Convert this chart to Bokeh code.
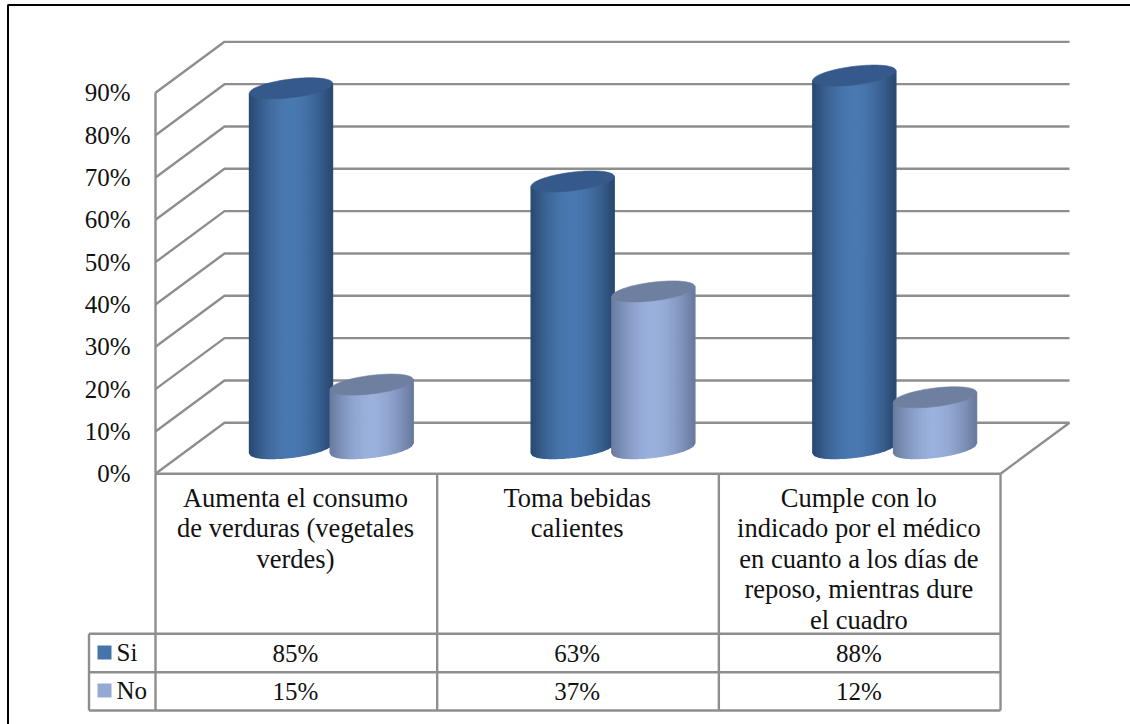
from bokeh.embed import file_html
from bokeh.resources import INLINE
from bokeh.plotting import figure
from bokeh.models import FixedTicker, PrintfTickFormatter, Range1d
from bokeh.core.properties import value
import numpy as np

# Chart values
categories = [
    ["Aumenta el consumo", "de verduras (vegetales", "verdes)"],
    ["Toma bebidas", "calientes"],
    ["Cumple con lo", "indicado por el médico", "en cuanto a los días de", "reposo, mientras dure", "el cuadro"],
]
series_names = ["Si", "No"]
si_values = [85, 63, 88]
no_values = [15, 37, 12]
y_ticks = [0, 10, 20, 30, 40, 50, 60, 70, 80, 90]

# Page geometry, in pixels
W, H = 1130, 724
LEFT, CAT_W = 155.0, 281.67
ZERO_Y, PCT = 473.3, 4.233
FONT = "Liberation Serif"
FS = "25px"
CAPTION_FS = "26.5px"
INK = "#111111"
GRID = "#8e8e8e"
GRID_W = 2.4


def cx(px):
    return (px - LEFT) / CAT_W


def cy(px):
    return (ZERO_Y - px) / PCT


p = figure(width=W, height=H, output_backend="svg", toolbar_location=None,
           x_range=Range1d(cx(0), cx(W)), y_range=Range1d(cy(H), cy(0)),
           min_border=0, outline_line_color=None)
p.grid.visible = False
p.xaxis.visible = False

# Percent axis placed at the front-left corner of the plot box
ax = p.yaxis[0]
ax.fixed_location = 0
ax.ticker = FixedTicker(ticks=y_ticks)
ax.formatter = PrintfTickFormatter(format="%d%%")
ax.bounds = (0, 90)
ax.axis_line_color = GRID
ax.axis_line_width = GRID_W
ax.major_tick_line_color = None
ax.minor_tick_line_color = None
ax.major_label_standoff = 19
ax.major_label_text_font = FONT
ax.major_label_text_font_size = FS
ax.major_label_text_color = INK

# Page frame: top and left edges only
p.line([cx(7.5), cx(7.5), cx(W)], [cy(H), cy(4.5), cy(4.5)], line_color="#000000", line_width=2)

# Receding walls and floor of the 3D box
DX = 69 / CAT_W
DY = 51 / PCT
for level in y_ticks:
    p.line([0, DX, 3 + DX], [level, level + DY, level + DY], line_color=GRID, line_width=GRID_W)
p.line([3, 3 + DX], [0, DY], line_color=GRID, line_width=GRID_W)

# Cylinders: each is a stack of shaded vertical strips with an elliptical cap
HALF_W = 41.6 / CAT_W
SLOPE = 0.119 * CAT_W / PCT
SEMI = 9.3 / PCT
BASE = 25.7 / PCT
OFFSETS = {"Si": 135.5 / CAT_W, "No": 216.2 / CAT_W}
PALETTE = {
    "Si": {"edge": (41, 72, 112), "mid": (74, 122, 178), "cap": "#35598a"},
    "No": {"edge": (104, 122, 158), "mid": (155, 178, 221), "cap": "#6f7fa0"},
}


def shade(name, u):
    c = PALETTE[name]
    k = (1 - abs(u) ** 1.7)
    return "#%02x%02x%02x" % tuple(int(e + (m - e) * k) for e, m in zip(c["edge"], c["mid"]))


def cylinder(name, center, val):
    us = np.linspace(-1, 1, 43)
    xs, ys, colors = [], [], []
    for a, b in zip(us[:-1], us[1:]):
        def lower(u):
            return BASE + SLOPE * HALF_W * u - SEMI * np.sqrt(max(0.0, 1 - u * u))
        xa, xb = center + a * HALF_W, center + b * HALF_W
        xs.append([xa, xb, xb, xa])
        ys.append([lower(a), lower(b), lower(b) + val, lower(a) + val])
        colors.append(shade(name, (a + b) / 2))
    p.patches(xs, ys, fill_color=colors, line_color=colors, line_width=1.2)
    th = np.linspace(0, 2 * np.pi, 90)
    ex = center + HALF_W * np.cos(th)
    ey = BASE + val + SLOPE * HALF_W * np.cos(th) + SEMI * np.sin(th)
    p.patch(ex, ey, fill_color=PALETTE[name]["cap"], line_color=PALETTE[name]["cap"], line_width=0.6)


for i, (si, no) in enumerate(zip(si_values, no_values)):
    cylinder("Si", i + OFFSETS["Si"], si)
    cylinder("No", i + OFFSETS["No"], no)

# Data table below the plot
TABLE_BOTTOM, ROW1, ROW2 = 710.0, 633.3, 671.7
TABLE_LEFT = 88.5
for i in range(4):
    p.line([i, i], [0, cy(TABLE_BOTTOM)], line_color=GRID, line_width=GRID_W)
for py, x0 in [(ZERO_Y, 0), (ROW1, cx(TABLE_LEFT)), (ROW2, cx(TABLE_LEFT)), (TABLE_BOTTOM, cx(TABLE_LEFT))]:
    p.line([x0, 3], [cy(py), cy(py)], line_color=GRID, line_width=GRID_W)
p.line([cx(TABLE_LEFT)] * 2, [cy(ROW1), cy(TABLE_BOTTOM)], line_color=GRID, line_width=GRID_W)


def label(xs, ys, texts, align="center", size=FS):
    p.text(xs, ys, text=texts, text_font=value(FONT), text_font_size=value(size),
           text_color=INK, text_align=align, text_baseline="middle")


# Category captions
cap_x, cap_y, cap_t = [], [], []
for i, lines in enumerate(categories):
    for j, line in enumerate(lines):
        cap_x.append(i + (295 - LEFT) / CAT_W)
        cap_y.append(cy(497 + j * 30.5))
        cap_t.append(line)
label(cap_x, cap_y, cap_t, size=CAPTION_FS)

# Value rows
label([i + (295 - LEFT) / CAT_W for i in range(3)], [cy(652.5)] * 3, [f"{v}%" for v in si_values])
label([i + (295 - LEFT) / CAT_W for i in range(3)], [cy(691)] * 3, [f"{v}%" for v in no_values])

# Legend keys embedded in the table
label([cx(116)] * 2, [cy(652), cy(690)], series_names, align="left")
for name, top, colour in [("Si", 645, "#4674aa"), ("No", 683, "#95a9d3")]:
    p.quad(left=cx(97), right=cx(111), top=cy(top), bottom=cy(top + 14), fill_color=colour, line_color=None)

open("out.html", "w").write(file_html(p, INLINE))
